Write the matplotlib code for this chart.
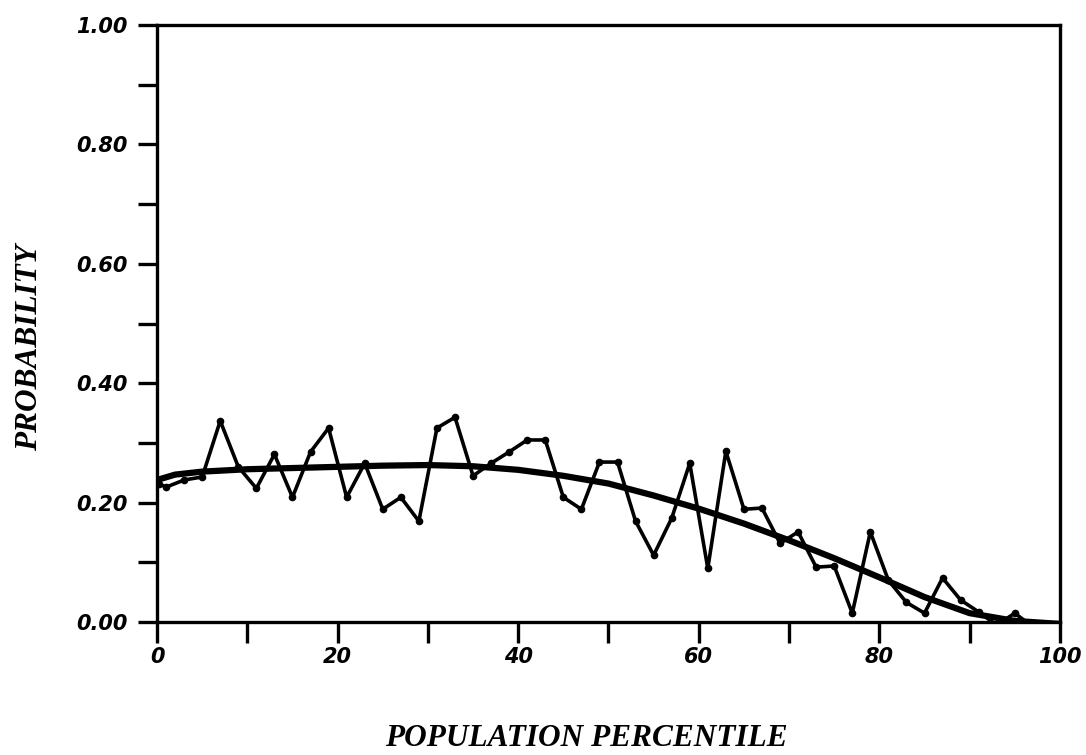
import matplotlib
matplotlib.use('Agg')
import matplotlib.pyplot as plt
import numpy as np

# observed probabilities by population percentile
pct = [0.2, 1, 3, 5, 7, 9, 11, 13, 15, 17, 19, 21, 23, 25, 27, 29, 31, 33,
       35, 37, 39, 41, 43, 45, 47, 49, 51, 53, 55, 57, 59, 61, 63, 65, 67,
       69, 71, 73, 75, 77, 79, 81, 83, 85, 87, 89, 91, 93, 95, 97, 99]
prob = [0.232, 0.226, 0.238, 0.243, 0.337, 0.260, 0.224, 0.281, 0.209, 0.285,
        0.325, 0.209, 0.266, 0.189, 0.209, 0.169, 0.325, 0.343,
        0.245, 0.266, 0.285, 0.305, 0.305, 0.209, 0.189, 0.268, 0.268,
        0.169, 0.112, 0.174, 0.266, 0.090, 0.286, 0.189, 0.191,
        0.132, 0.151, 0.092, 0.094, 0.015, 0.151, 0.070, 0.033, 0.015,
        0.074, 0.037, 0.017, -0.005, 0.015, -0.008, -0.005]

# fitted smooth curve
fit_x = [0, 2, 5, 10, 15, 20, 25, 30, 35, 40, 45, 50, 55, 60, 65, 70, 75,
         80, 85, 90, 95, 100]
fit_y = [0.238, 0.247, 0.252, 0.256, 0.258, 0.260, 0.262, 0.263, 0.261,
         0.255, 0.245, 0.232, 0.212, 0.190, 0.165, 0.137, 0.107, 0.075,
         0.042, 0.015, 0.002, -0.003]

fig = plt.figure(figsize=(10.86, 7.55), dpi=100)
ax = fig.add_axes([0.1446, 0.176, 0.8314, 0.791])

ax.plot(fit_x, fit_y, color='black', lw=4.5, solid_capstyle='round')
ax.plot(pct, prob, color='black', lw=2.6, marker='o', ms=4.5)

ax.set_xlim(0, 100)
ax.set_ylim(0, 1.0)
ax.set_xticks(np.arange(0, 101, 20))
ax.set_xticks(np.arange(10, 100, 20), minor=True)
ax.set_yticks(np.arange(0, 1.01, 0.2))
ax.set_yticks(np.arange(0.1, 1.0, 0.2), minor=True)
ax.set_xticklabels(['0', '20', '40', '60', '80', '100'])
ax.set_yticklabels(['0.00', '0.20', '0.40', '0.60', '0.80', '1.00'])

for s in ax.spines.values():
    s.set_linewidth(2.4)
ax.tick_params(which='both', direction='out', width=2.4, length=14)
ax.tick_params(axis='y', which='both', pad=7)
ax.tick_params(axis='x', which='both', length=15, pad=3)

for lab in ax.get_xticklabels() + ax.get_yticklabels():
    lab.set_fontfamily('DejaVu Sans')
    lab.set_fontweight('heavy')
    lab.set_fontstyle('italic')
    lab.set_fontsize(15)

fig.text(0.54, 0.022, 'POPULATION PERCENTILE', family='Liberation Serif',
         weight='bold', style='italic', fontsize=22.5, ha='center', va='center')
fig.text(0.027, 0.54, 'PROBABILITY', family='Liberation Serif',
         weight='bold', style='italic', fontsize=22.5, ha='center', va='center',
         rotation=90)

fig.savefig('out.png', dpi=100)
